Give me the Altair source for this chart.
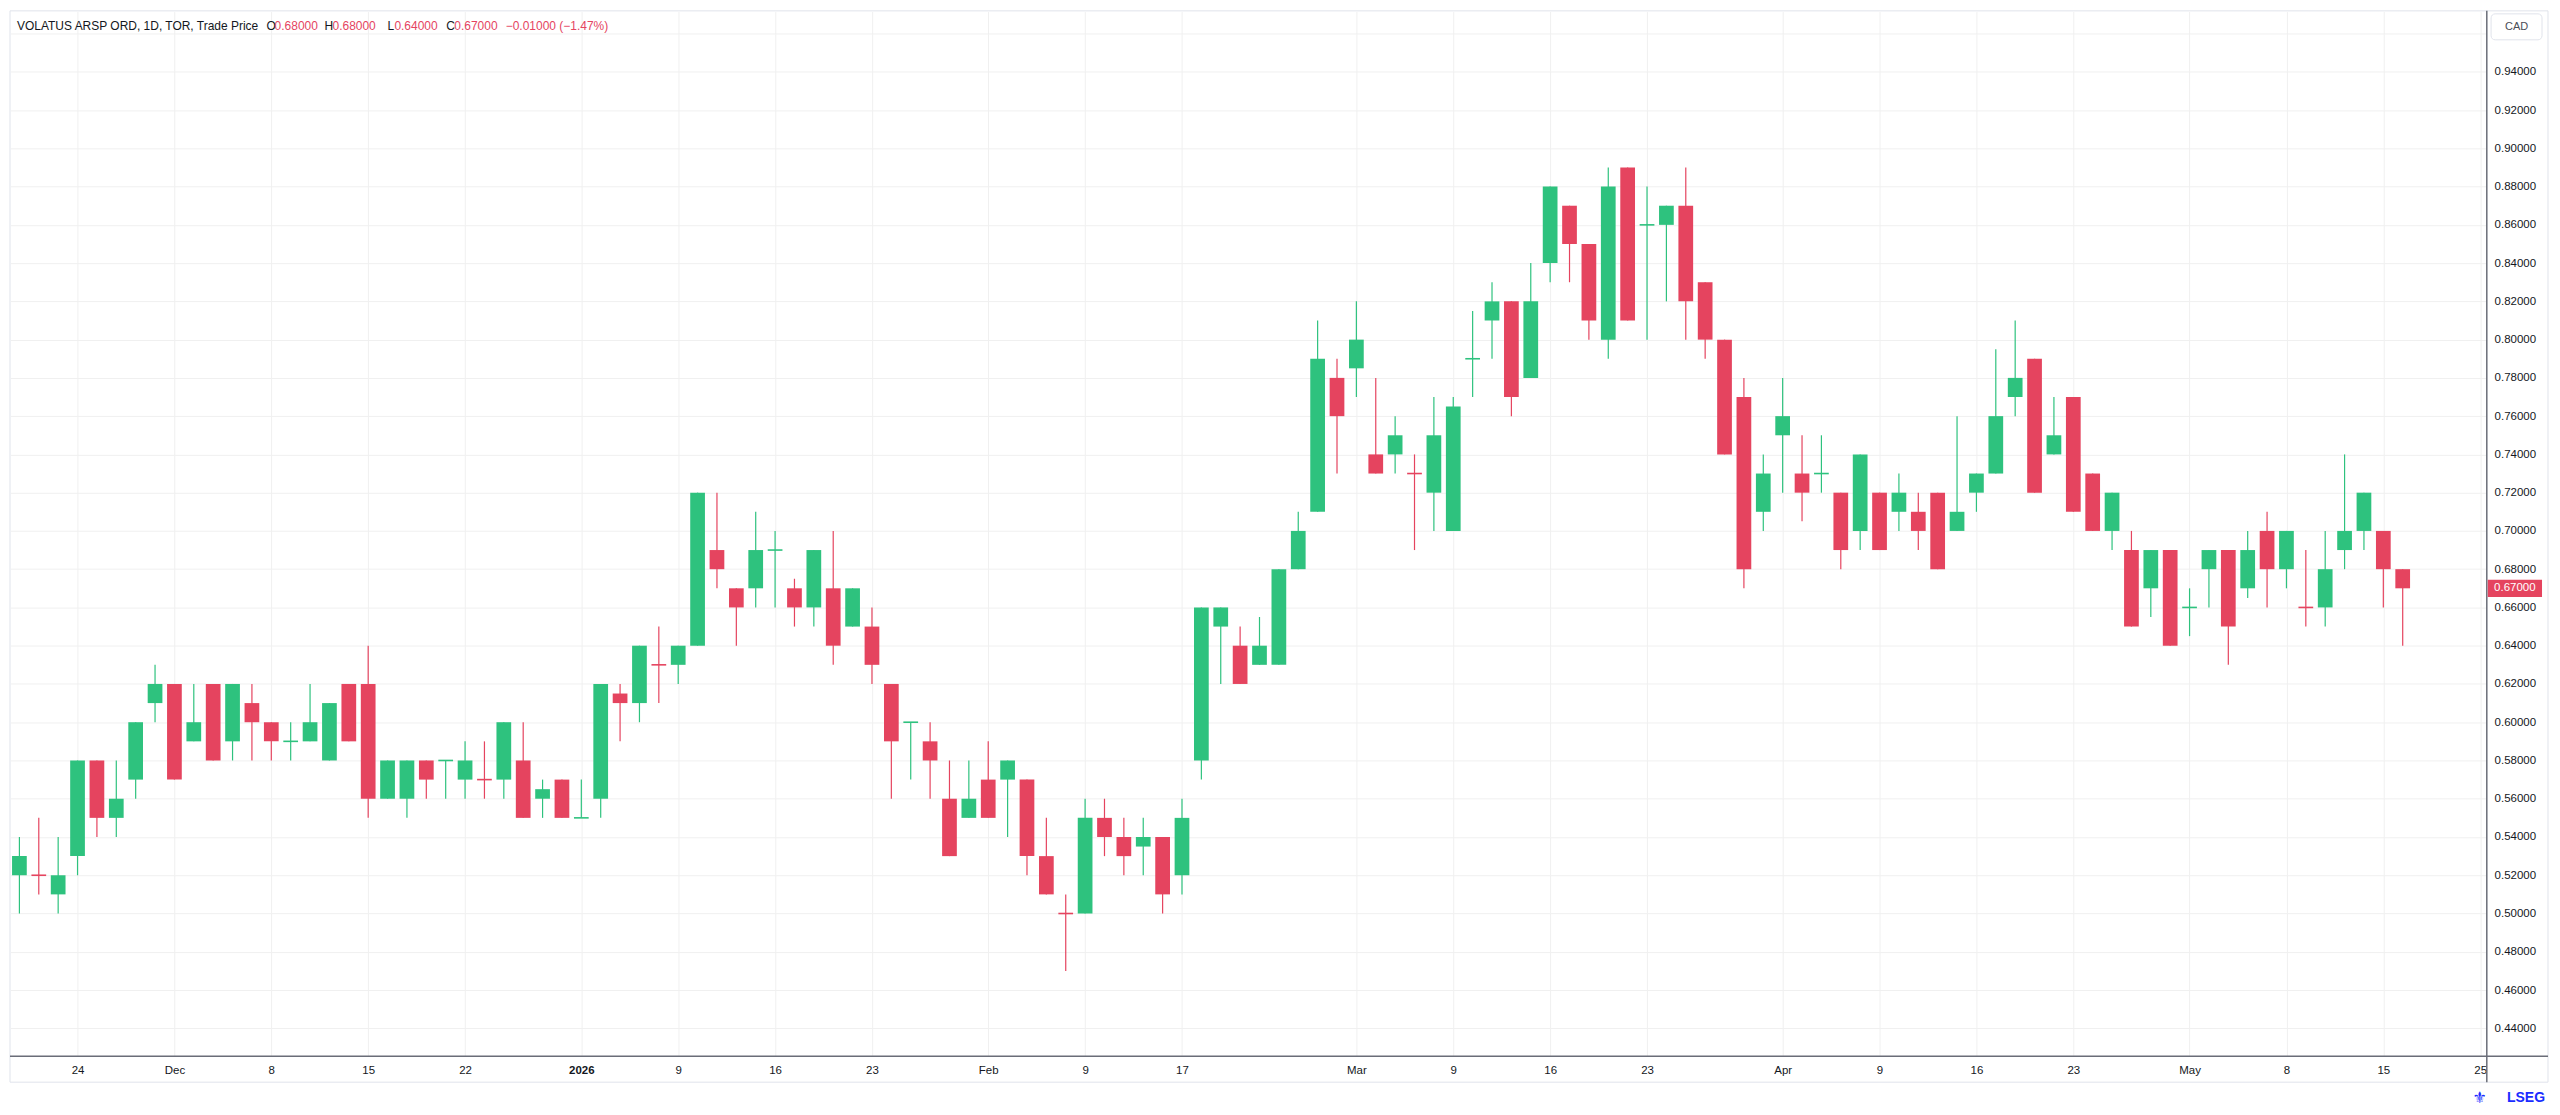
import json
import altair as alt
import pandas as pd

# ---------------- data ----------------
opens = [
    0.52, 0.52, 0.51, 0.53, 0.58, 0.55, 0.57, 0.61, 0.62, 0.59,
    0.62, 0.59, 0.61, 0.60, 0.59, 0.59, 0.58, 0.62, 0.62, 0.56,
    0.56, 0.58, 0.58, 0.57, 0.57, 0.57, 0.58, 0.56, 0.57, 0.55,
    0.56, 0.615, 0.61, 0.63, 0.63, 0.64, 0.69, 0.67, 0.67, 0.69,
    0.67, 0.66, 0.67, 0.65, 0.65, 0.62, 0.60, 0.59, 0.56, 0.55,
    0.57, 0.57, 0.57, 0.53, 0.50, 0.50, 0.55, 0.54, 0.535, 0.54,
    0.52, 0.58, 0.65, 0.64, 0.63, 0.63, 0.68, 0.71, 0.78, 0.785,
    0.74, 0.74, 0.73, 0.72, 0.70, 0.79, 0.81, 0.82, 0.78, 0.84,
    0.87, 0.85, 0.80, 0.89, 0.86, 0.86, 0.87, 0.83, 0.80, 0.77,
    0.71, 0.75, 0.73, 0.73, 0.72, 0.70, 0.72, 0.71, 0.71, 0.72,
    0.70, 0.72, 0.73, 0.77, 0.79, 0.74, 0.77, 0.73, 0.70, 0.69,
    0.67, 0.69, 0.66, 0.68, 0.69, 0.67, 0.70, 0.68, 0.66, 0.66,
    0.69, 0.70, 0.70, 0.68]
highs = [
    0.54, 0.55, 0.54, 0.58, 0.58, 0.58, 0.60, 0.63, 0.62, 0.62,
    0.62, 0.62, 0.62, 0.60, 0.60, 0.62, 0.61, 0.62, 0.64, 0.58,
    0.58, 0.58, 0.58, 0.59, 0.59, 0.60, 0.60, 0.57, 0.57, 0.57,
    0.62, 0.62, 0.64, 0.65, 0.64, 0.72, 0.72, 0.67, 0.71, 0.70,
    0.675, 0.69, 0.70, 0.67, 0.66, 0.62, 0.60, 0.60, 0.58, 0.58,
    0.59, 0.58, 0.57, 0.55, 0.51, 0.56, 0.56, 0.55, 0.55, 0.54,
    0.56, 0.66, 0.66, 0.65, 0.655, 0.68, 0.71, 0.81, 0.79, 0.82,
    0.78, 0.76, 0.74, 0.77, 0.77, 0.815, 0.83, 0.82, 0.84, 0.88,
    0.87, 0.85, 0.89, 0.89, 0.88, 0.87, 0.89, 0.83, 0.80, 0.78,
    0.74, 0.78, 0.75, 0.75, 0.72, 0.74, 0.72, 0.73, 0.72, 0.72,
    0.76, 0.73, 0.795, 0.81, 0.79, 0.77, 0.77, 0.73, 0.72, 0.70,
    0.69, 0.69, 0.67, 0.69, 0.69, 0.70, 0.71, 0.70, 0.69, 0.70,
    0.74, 0.72, 0.70, 0.68]
lows = [
    0.50, 0.51, 0.50, 0.52, 0.54, 0.54, 0.56, 0.60, 0.57, 0.59,
    0.58, 0.58, 0.58, 0.58, 0.58, 0.59, 0.58, 0.59, 0.55, 0.56,
    0.55, 0.56, 0.56, 0.56, 0.56, 0.56, 0.55, 0.55, 0.55, 0.55,
    0.55, 0.59, 0.60, 0.61, 0.62, 0.64, 0.67, 0.64, 0.66, 0.66,
    0.65, 0.65, 0.63, 0.65, 0.62, 0.56, 0.57, 0.56, 0.53, 0.55,
    0.55, 0.54, 0.52, 0.51, 0.47, 0.50, 0.53, 0.52, 0.52, 0.50,
    0.51, 0.57, 0.62, 0.62, 0.63, 0.63, 0.68, 0.71, 0.73, 0.77,
    0.73, 0.73, 0.69, 0.70, 0.70, 0.77, 0.79, 0.76, 0.78, 0.83,
    0.83, 0.80, 0.79, 0.81, 0.80, 0.82, 0.80, 0.79, 0.74, 0.67,
    0.70, 0.72, 0.705, 0.72, 0.68, 0.69, 0.69, 0.70, 0.69, 0.68,
    0.70, 0.71, 0.73, 0.76, 0.72, 0.74, 0.71, 0.70, 0.69, 0.65,
    0.655, 0.64, 0.645, 0.66, 0.63, 0.665, 0.66, 0.67, 0.65, 0.65,
    0.68, 0.69, 0.66, 0.64]
closes = [
    0.53, 0.52, 0.52, 0.58, 0.55, 0.56, 0.60, 0.62, 0.57, 0.60,
    0.58, 0.62, 0.60, 0.59, 0.59, 0.60, 0.61, 0.59, 0.56, 0.58,
    0.58, 0.57, 0.58, 0.58, 0.57, 0.60, 0.55, 0.565, 0.55, 0.55,
    0.62, 0.61, 0.64, 0.63, 0.64, 0.72, 0.68, 0.66, 0.69, 0.69,
    0.66, 0.69, 0.64, 0.67, 0.63, 0.59, 0.60, 0.58, 0.53, 0.56,
    0.55, 0.58, 0.53, 0.51, 0.50, 0.55, 0.54, 0.53, 0.54, 0.51,
    0.55, 0.66, 0.66, 0.62, 0.64, 0.68, 0.70, 0.79, 0.76, 0.80,
    0.73, 0.75, 0.73, 0.75, 0.765, 0.79, 0.82, 0.77, 0.82, 0.88,
    0.85, 0.81, 0.88, 0.81, 0.86, 0.87, 0.82, 0.80, 0.74, 0.68,
    0.73, 0.76, 0.72, 0.73, 0.69, 0.74, 0.69, 0.72, 0.70, 0.68,
    0.71, 0.73, 0.76, 0.78, 0.72, 0.75, 0.71, 0.70, 0.72, 0.65,
    0.69, 0.64, 0.66, 0.69, 0.65, 0.69, 0.68, 0.70, 0.66, 0.68,
    0.70, 0.72, 0.68, 0.67]

holidays = ["2025-12-25", "2025-12-26", "2026-01-01", "2026-02-16",
            "2026-04-03", "2026-05-18"]
tick_dates = ["2025-11-24", "2025-12-01", "2025-12-08", "2025-12-15",
              "2025-12-22", "2026-01-02", "2026-01-09", "2026-01-16",
              "2026-01-23", "2026-02-02", "2026-02-09", "2026-02-17",
              "2026-03-02", "2026-03-09", "2026-03-16", "2026-03-23",
              "2026-04-01", "2026-04-09", "2026-04-16", "2026-04-23",
              "2026-05-01", "2026-05-08", "2026-05-15", "2026-05-25"]
tick_labels = ["24", "Dec", "8", "15", "22", "2026", "9", "16", "23", "Feb",
               "9", "17", "Mar", "9", "16", "23", "Apr", "9", "16", "23",
               "May", "8", "15", "25"]
price_ticks = [round(0.44 + 0.02 * k, 2) for k in range(27)]

header_title = "VOLATUS ARSP ORD, 1D, TOR, Trade Price"
header_change = "\u22120.01000 (\u22121.47%)"

# ---------------- styles ----------------
GREEN = "#2ec27e"
RED = "#e5445f"
TXT = "#131722"
GRID = "#f0f0f0"
AXLINE = "#6a6d78"
BORDER = "#e0e3eb"
FONT = "Liberation Sans"
W, H = 2480, 1046.3
HALF = 0.38

# ---------------- frame ----------------
cal = pd.bdate_range("2025-11-19", "2026-05-29")
cal = cal[~cal.isin(pd.to_datetime(holidays))]
tick_pos = [int(cal.get_loc(pd.Timestamp(d))) for d in tick_dates]
year_pos = tick_pos[tick_labels.index("2026")]

n = len(closes)
dirs = []
for k in range(n):
    o, c = opens[k], closes[k]
    if c > o:
        dirs.append("up")
    elif c < o:
        dirs.append("down")
    else:
        dirs.append("up" if k == 0 or c >= closes[k - 1] else "down")

df = pd.DataFrame({
    "i": list(range(n)),
    "date": cal[:n].strftime("%Y-%m-%d"),
    "open": opens, "high": highs, "low": lows, "close": closes,
    "dir": dirs,
})

xscale = alt.Scale(domain=[-0.46, 127.33], nice=False, zero=False)
yscale = alt.Scale(domain=[0.4254, 0.9715], nice=False, zero=False)

x_axis = alt.Axis(
    values=tick_pos,
    labelExpr=f"{json.dumps(tick_labels)}[indexof({json.dumps(tick_pos)}, datum.value)]",
    grid=True, gridColor=GRID, gridWidth=1, ticks=False, tickSize=0, domain=False,
    labelFont=FONT, labelFontSize=11.5, labelColor=TXT, labelPadding=14,
    labelBaseline="middle", labelFlush=False, labelOverlap=False,
    labelFontWeight={"condition": {"test": f"datum.value == {year_pos}", "value": "bold"},
                     "value": "normal"},
    title=None,
)
y_axis = alt.Axis(
    orient="right", values=price_ticks,
    labelExpr="datum.value > 0.95 ? '' : format(datum.value, '.5f')",
    grid=True, gridColor=GRID, gridWidth=1, ticks=False, tickSize=0, domain=False,
    labelFont=FONT, labelFontSize=11.5, labelColor=TXT, labelPadding=7.5,
    labelFlush=False, labelOverlap=False, title=None,
)
color = alt.Color("dir:N", scale=alt.Scale(domain=["up", "down"], range=[GREEN, RED]),
                  legend=None)

base = alt.Chart(df).transform_calculate(
    x0=f"datum.i - {HALF}", x1=f"datum.i + {HALF}",
    top="max(datum.open, datum.close)", bot="min(datum.open, datum.close)",
)

wicks = base.mark_rule(strokeWidth=1.2).encode(
    x=alt.X("i:Q", scale=xscale, axis=x_axis),
    y=alt.Y("low:Q", scale=yscale, axis=y_axis),
    y2="high:Q",
    color=color,
)
bodies = base.transform_filter("datum.open != datum.close").mark_rect().encode(
    x=alt.X("x0:Q", scale=xscale, axis=x_axis),
    x2="x1:Q",
    y=alt.Y("bot:Q", scale=yscale, axis=y_axis),
    y2="top:Q",
    color=color,
)
dojis = base.transform_filter("datum.open == datum.close").mark_rule(strokeWidth=1.6).encode(
    x=alt.X("x0:Q", scale=xscale, axis=x_axis),
    x2="x1:Q",
    y=alt.Y("open:Q", scale=yscale, axis=y_axis),
    color=color,
)

# axis lines (TradingView style) and outer frame
frame = alt.Chart(pd.DataFrame({"a": [0]})).mark_rect(
    fillOpacity=0, stroke=BORDER, strokeWidth=1
).encode(x=alt.value(-0.5), x2=alt.value(2541.5), y=alt.value(-0.7), y2=alt.value(1072.3))
vline = alt.Chart(pd.DataFrame({"a": [0]})).mark_rule(color=AXLINE, strokeWidth=1.5).encode(
    x=alt.value(W + 0.2), y=alt.value(-0.7), y2=alt.value(1072.3))
hline = alt.Chart(pd.DataFrame({"a": [0]})).mark_rule(color=AXLINE, strokeWidth=1.5).encode(
    y=alt.value(H), x=alt.value(-0.5), x2=alt.value(2541.5))

# last price label
last = pd.DataFrame({"p": [closes[-1]]})
price_box = alt.Chart(last).transform_calculate(
    lo="datum.p - 0.0045", hi="datum.p + 0.0045"
).mark_rect(color=RED).encode(
    x=alt.value(W + 1.2), x2=alt.value(W + 55.5),
    y=alt.Y("lo:Q", scale=yscale, axis=y_axis), y2="hi:Q",
)
price_txt = alt.Chart(last).transform_calculate(
    lab="format(datum.p, '.5f')"
).mark_text(align="left", baseline="middle", color="white", font=FONT, fontSize=11.5).encode(
    x=alt.value(W + 7.5),
    y=alt.Y("p:Q", scale=yscale, axis=y_axis),
    text="lab:N",
)

# currency box
cad_box = alt.Chart(pd.DataFrame({"a": [0]})).mark_rect(
    fill="white", stroke=BORDER, strokeWidth=1, cornerRadius=4
).encode(x=alt.value(W + 4.5), x2=alt.value(W + 55.5), y=alt.value(2.3), y2=alt.value(28.3))
cad_txt = alt.Chart(pd.DataFrame({"t": ["CAD"]})).mark_text(
    align="center", baseline="middle", color="#4a4d57", font=FONT, fontSize=11
).encode(x=alt.value(W + 30), y=alt.value(15.3), text="t:N")


def label(text, x, col, size=12, weight="normal", align="left", y=14.3, font=FONT):
    return alt.Chart(pd.DataFrame({"t": [text]})).mark_text(
        align=align, baseline="middle", color=col, font=font, fontSize=size,
        fontWeight=weight,
    ).encode(x=alt.value(x), y=alt.value(y), text="t:N")


o_, h_, l_, c_ = opens[-1], highs[-1], lows[-1], closes[-1]
header = [
    label(header_title, 6.5, TXT),
    label("O", 256.5, TXT), label(f"{o_:.5f}", 264.5, RED),
    label("H", 314.5, TXT), label(f"{h_:.5f}", 322.5, RED),
    label("L", 377.5, TXT), label(f"{l_:.5f}", 384.5, RED),
    label("C", 436.5, TXT), label(f"{c_:.5f}", 444.5, RED),
    label(header_change, 496, RED),
]
logo = [
    label("\u269c", 2466, "#1a2cff", size=16, font="DejaVu Sans", y=1088),
    label("LSEG", 2538.5, "#1a2cff", size=14, weight="bold", align="right", y=1088),
]

chart = alt.layer(
    frame, wicks, bodies, dojis, vline, hline, price_box, price_txt,
    cad_box, cad_txt, *header, *logo,
).properties(
    width=W, height=H,
    autosize=alt.AutoSizeParams(type="none"),
    padding={"left": 2.5, "top": 2.7, "right": 65.5, "bottom": 50},
    background="white",
).configure_view(stroke=None)

chart.save("out.html", embed_options={"renderer": "svg", "actions": False})
